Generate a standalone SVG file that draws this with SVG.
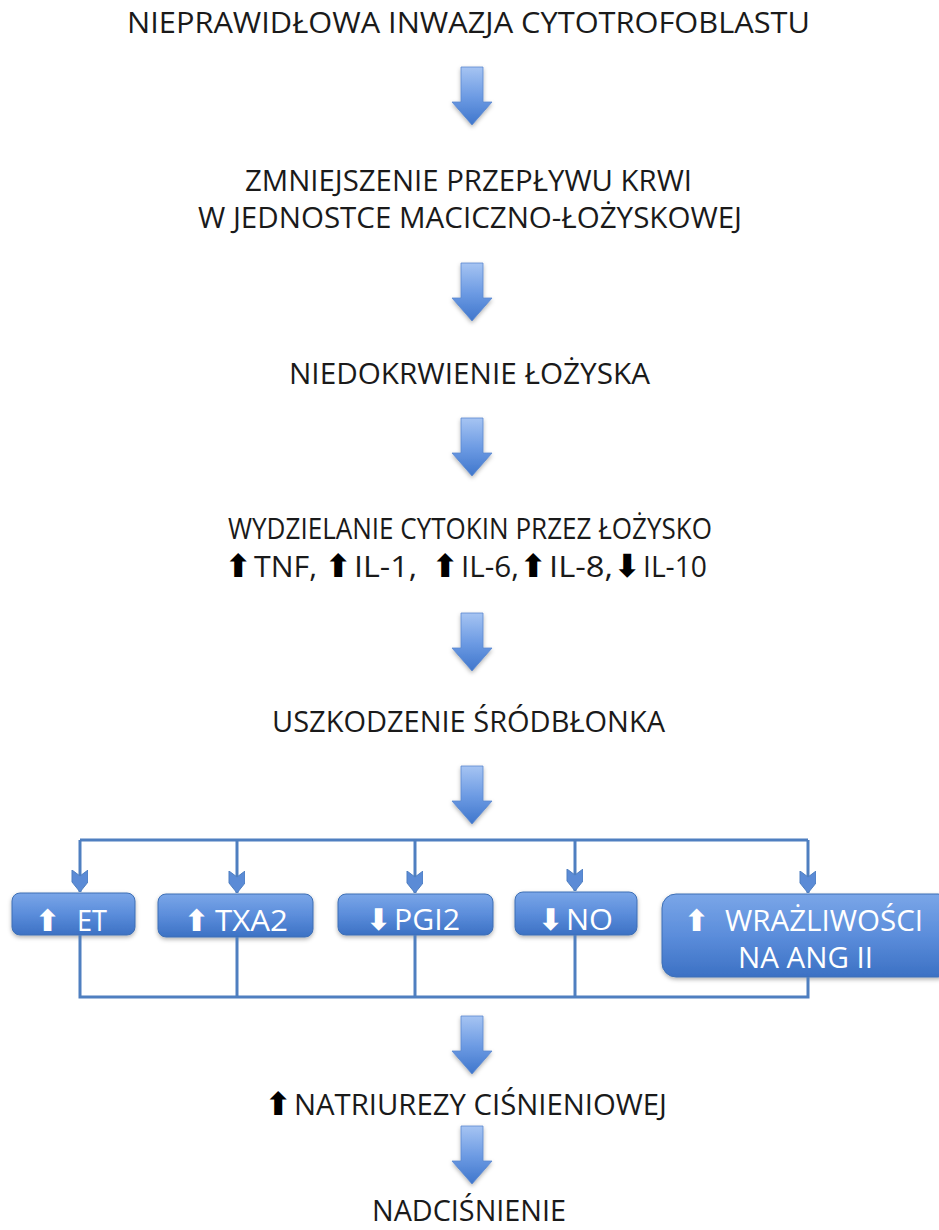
<svg xmlns="http://www.w3.org/2000/svg" xmlns:xlink="http://www.w3.org/1999/xlink" width="939" height="1230" viewBox="0 0 939 1230">
  <style>
    .t { font-family: "Open Sans", "Liberation Sans", sans-serif; font-size: 29px; fill: #1a1a1a; }
    .t2 { font-family: "Open Sans", "Liberation Sans", sans-serif; font-size: 30px; fill: #1a1a1a; }
    .bt { font-family: "Open Sans", "Liberation Sans", sans-serif; font-size: 29px; fill: #ffffff; }
    .ar { font-family: "DejaVu Sans", sans-serif; font-size: 32px; font-weight: bold; fill: #000000; }
    .arw { font-family: "DejaVu Sans", sans-serif; font-size: 30px; font-weight: bold; fill: #ffffff; }
    .box { fill: url(#boxGrad); stroke: #3d6fb5; stroke-width: 1; filter: url(#shadow); }
    .conn { fill: none; stroke: #4f7fc0; stroke-width: 3; }
  </style>
  <defs>
    <linearGradient id="arrowGrad" x1="0" y1="0" x2="0" y2="1">
      <stop offset="0" stop-color="#a6c4f2"/>
      <stop offset="0.5" stop-color="#6e9ce4"/>
      <stop offset="1" stop-color="#3f76cc"/>
    </linearGradient>
    <linearGradient id="boxGrad" x1="0" y1="0" x2="0" y2="1">
      <stop offset="0" stop-color="#7aa6e8"/>
      <stop offset="0.5" stop-color="#5b8ddb"/>
      <stop offset="1" stop-color="#3c71c4"/>
    </linearGradient>
    <filter id="shadow" x="-10%" y="-10%" width="120%" height="140%">
      <feDropShadow dx="0" dy="2" stdDeviation="2" flood-color="#000" flood-opacity="0.3"/>
    </filter>
    <g id="bigArrow">
      <path d="M-11,0 H11 V35 H20 L0,58 L-20,35 H-11 Z" fill="url(#arrowGrad)" stroke="#5a88cf" stroke-width="0.8" filter="url(#shadow)"/>
    </g>
    <marker id="chev" markerUnits="userSpaceOnUse" markerWidth="24" markerHeight="18" refX="22" refY="8" orient="auto" viewBox="0 0 24 18">
      <path d="M0,0 L12,0 L22,8 L12,16 L0,16 L6,8 Z" fill="#5b8bd6" stroke="#4f7fc0" stroke-width="1"/>
    </marker>
  </defs>

  <!-- main nodes -->
  <g id="n1"><text class="t" x="468.5" y="33" text-anchor="middle" textLength="683" lengthAdjust="spacingAndGlyphs">NIEPRAWIDŁOWA INWAZJA CYTOTROFOBLASTU</text></g>
  <g id="n2">
    <text class="t" x="468.5" y="191" text-anchor="middle" textLength="447" lengthAdjust="spacingAndGlyphs">ZMNIEJSZENIE PRZEPŁYWU KRWI</text>
    <text class="t" x="470" y="228" text-anchor="middle" textLength="544" lengthAdjust="spacingAndGlyphs">W JEDNOSTCE MACICZNO-ŁOŻYSKOWEJ</text>
  </g>
  <g id="n3"><text class="t" x="469.5" y="384" text-anchor="middle" textLength="361" lengthAdjust="spacingAndGlyphs">NIEDOKRWIENIE ŁOŻYSKA</text></g>
  <g id="n4">
    <text class="t" x="470" y="539" text-anchor="middle" textLength="484" lengthAdjust="spacingAndGlyphs">WYDZIELANIE CYTOKIN PRZEZ ŁOŻYSKO</text>
    <text y="577"><tspan class="ar" x="225">⬆</tspan><tspan class="t2" x="254" textLength="63" lengthAdjust="spacingAndGlyphs">TNF,</tspan><tspan class="ar" x="325">⬆</tspan><tspan class="t2" x="354" textLength="63" lengthAdjust="spacingAndGlyphs">IL-1,</tspan><tspan class="ar" x="432">⬆</tspan><tspan class="t2" x="461" textLength="58" lengthAdjust="spacingAndGlyphs">IL-6,</tspan><tspan class="ar" x="520">⬆</tspan><tspan class="t2" x="549" textLength="64" lengthAdjust="spacingAndGlyphs">IL-8,</tspan><tspan class="ar" x="614">⬇</tspan><tspan class="t2" x="643" textLength="64" lengthAdjust="spacingAndGlyphs">IL-10</tspan></text>
  </g>
  <g id="n5"><text class="t" x="468.5" y="732" text-anchor="middle" textLength="393" lengthAdjust="spacingAndGlyphs">USZKODZENIE ŚRÓDBŁONKA</text></g>

  <!-- boxes -->
  <g id="b1">
    <rect class="box" x="12" y="893" width="123" height="42" rx="8"/>
    <text y="931"><tspan class="arw" x="35">⬆</tspan><tspan class="bt" x="77" textLength="30" lengthAdjust="spacingAndGlyphs">ET</tspan></text>
  </g>
  <g id="b2">
    <rect class="box" x="158" y="894" width="155" height="43" rx="8"/>
    <text y="931"><tspan class="arw" x="184">⬆</tspan><tspan class="bt" x="215" textLength="73" lengthAdjust="spacingAndGlyphs">TXA2</tspan></text>
  </g>
  <g id="b3">
    <rect class="box" x="338" y="894" width="155" height="41" rx="8"/>
    <text y="930"><tspan class="arw" x="366">⬇</tspan><tspan class="bt" x="394" textLength="66" lengthAdjust="spacingAndGlyphs">PGI2</tspan></text>
  </g>
  <g id="b4">
    <rect class="box" x="515" y="892" width="122" height="43" rx="8"/>
    <text y="930"><tspan class="arw" x="538">⬇</tspan><tspan class="bt" x="566" textLength="47" lengthAdjust="spacingAndGlyphs">NO</tspan></text>
  </g>
  <g id="b5">
    <rect class="box" x="662" y="894" width="290" height="83" rx="14"/>
    <text y="931"><tspan class="arw" x="684">⬆</tspan><tspan class="bt" x="725" textLength="198" lengthAdjust="spacingAndGlyphs">WRAŻLIWOŚCI</tspan></text>
    <text class="bt" x="738" y="968" textLength="135" lengthAdjust="spacingAndGlyphs">NA ANG II</text>
  </g>

  <g id="n6">
    <text y="1115"><tspan class="ar" x="265">⬆</tspan><tspan class="t" x="294" textLength="373" lengthAdjust="spacingAndGlyphs">NATRIUREZY CIŚNIENIOWEJ</tspan></text>
  </g>
  <g id="n7"><text class="t" x="469" y="1221" text-anchor="middle" textLength="194" lengthAdjust="spacingAndGlyphs">NADCIŚNIENIE</text></g>

  <!-- connectors -->
  <g id="connectors">
    <use xlink:href="#bigArrow" transform="translate(472,67)"/>
    <use xlink:href="#bigArrow" transform="translate(472,263)"/>
    <use xlink:href="#bigArrow" transform="translate(472,418)"/>
    <use xlink:href="#bigArrow" transform="translate(472,613)"/>
    <use xlink:href="#bigArrow" transform="translate(472,766)"/>
    <use xlink:href="#bigArrow" transform="translate(472,1016)"/>
    <use xlink:href="#bigArrow" transform="translate(472,1126)"/>

    <path class="conn" d="M80,840 H808"/>
    <path class="conn" d="M80,840 V892" marker-end="url(#chev)"/>
    <path class="conn" d="M237,840 V893" marker-end="url(#chev)"/>
    <path class="conn" d="M415,840 V893" marker-end="url(#chev)"/>
    <path class="conn" d="M575,840 V891" marker-end="url(#chev)"/>
    <path class="conn" d="M808,840 V893" marker-end="url(#chev)"/>

    <path class="conn" d="M80,935 V997 H808 V977"/>
    <path class="conn" d="M237,937 V997"/>
    <path class="conn" d="M415,935 V997"/>
    <path class="conn" d="M575,935 V997"/>
  </g>
</svg>
